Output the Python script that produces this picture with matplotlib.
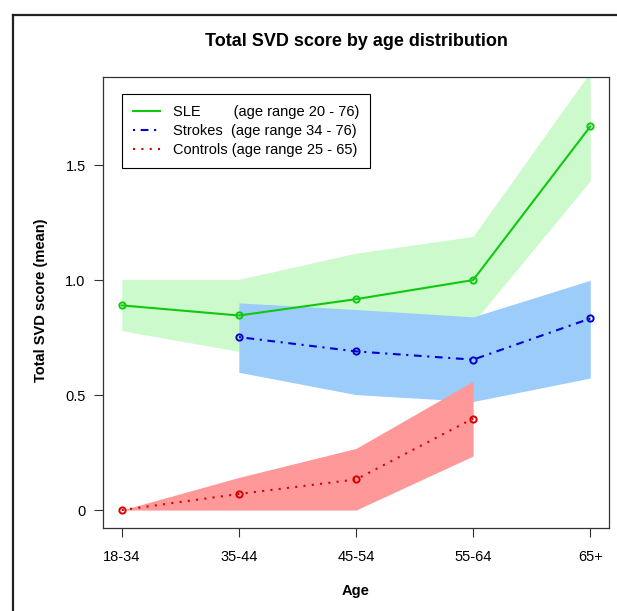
import matplotlib
matplotlib.use("Agg")
import matplotlib.pyplot as plt
from matplotlib.lines import Line2D

plt.rcParams["font.family"] = ["Liberation Sans", "DejaVu Sans"]

# age groups on the x axis
ages = ["18-34", "35-44", "45-54", "55-64", "65+"]

# SLE (all five groups)
sle_x = [1, 2, 3, 4, 5]
sle_mean = [0.89, 0.846, 0.917, 1.0, 1.668]
sle_lo = [0.78, 0.69, 0.72, 0.815, 1.432]
sle_hi = [1.003, 1.003, 1.117, 1.19, 1.905]

# Strokes (35-44 onwards)
str_x = [2, 3, 4, 5]
str_mean = [0.752, 0.69, 0.654, 0.833]
str_lo = [0.599, 0.502, 0.472, 0.574]
str_hi = [0.901, 0.872, 0.84, 0.999]

# Controls (up to 55-64)
ctl_x = [1, 2, 3, 4]
ctl_mean = [0.0, 0.07, 0.133, 0.398]
ctl_lo = [0.0, 0.0, 0.0, 0.235]
ctl_hi = [0.0, 0.142, 0.268, 0.56]

labels = ["SLE        (age range 20 - 76)",
          "Strokes  (age range 34 - 76)",
          "Controls (age range 25 - 65)"]

GREEN, GREEN_F = "#10C810", "#CCFACC"
BLUE, BLUE_F = "#0000CD", "#9CCCFA"
RED, RED_F = "#D80000", "#FF9999"

fig = plt.figure(figsize=(6.17, 6.11), dpi=100)
ax = fig.add_axes([103 / 617, 1 - 528 / 611, 506 / 617, 451 / 611])

# bands
ax.fill_between(sle_x, sle_lo, sle_hi, color=GREEN_F, lw=0)
ax.fill_between(str_x, str_lo, str_hi, color=BLUE_F, lw=0)
ax.fill_between(ctl_x, ctl_lo, ctl_hi, color=RED_F, lw=0)

mk = dict(marker="o", markersize=4.5, markerfacecolor="none", markeredgewidth=1.4)
ax.plot(sle_x, sle_mean, color=GREEN, lw=1.5, ls="-", label=labels[0], **mk)
ax.plot(str_x, str_mean, color=BLUE, lw=1.5, ls=(0, (1, 2.7, 3.7, 2.7)),
        label=labels[1], **mk)
ax.plot(ctl_x, ctl_mean, color=RED, lw=1.5, ls=(0, (1, 3)), label=labels[2], **mk)

ax.set_xlim(0.84, 5.16)
ax.set_ylim(-0.078, 1.883)
ax.set_xticks(range(1, 6))
ax.set_xticklabels(ages)
ax.set_yticks([0, 0.5, 1.0, 1.5])
ax.set_yticklabels(["0", "0.5", "1.0", "1.5"])
ax.tick_params(axis="both", labelsize=10.5, length=6.5, width=0.8, color="#333333")
ax.tick_params(axis="x", pad=9)
ax.tick_params(axis="y", pad=6)
for s in ax.spines.values():
    s.set_linewidth(0.9)
    s.set_color("#333333")

# legend handles without markers
handles = [Line2D([], [], color=GREEN, lw=1.5, ls="-"),
           Line2D([], [], color=BLUE, lw=1.5, ls=(0, (1, 2.7, 3.7, 2.7))),
           Line2D([], [], color=RED, lw=1.5, ls=(0, (1, 3)))]
leg = ax.legend(handles, labels, loc="upper left", bbox_to_anchor=(0.0375, 0.962),
                borderaxespad=0, fontsize=10.5, handlelength=1.85, handletextpad=0.9,
                labelspacing=0.33, borderpad=0.75, fancybox=False, framealpha=1)
leg.get_frame().set_edgecolor("black")
leg.get_frame().set_linewidth(0.8)

fig.text(356 / 617, 1 - 42 / 611, "Total SVD score by age distribution",
         ha="center", va="center", fontsize=13, fontweight="bold")
fig.text(356 / 617, 1 - 591 / 611, "Age", ha="center", va="center",
         fontsize=10.5, fontweight="bold")
fig.text(41 / 617, 1 - 300 / 611, "Total SVD score (mean)", ha="center", va="center",
         rotation=90, fontsize=10.5, fontweight="bold")

# outer frame (left and top edges)
fig.add_artist(Line2D([13 / 617, 13 / 617], [0, 1 - 15 / 611], color="#222222", lw=1.6,
                      transform=fig.transFigure))
fig.add_artist(Line2D([13 / 617, 1], [1 - 15 / 611, 1 - 15 / 611], color="#222222", lw=1.6,
                      transform=fig.transFigure))

fig.savefig("out.png", dpi=100)
